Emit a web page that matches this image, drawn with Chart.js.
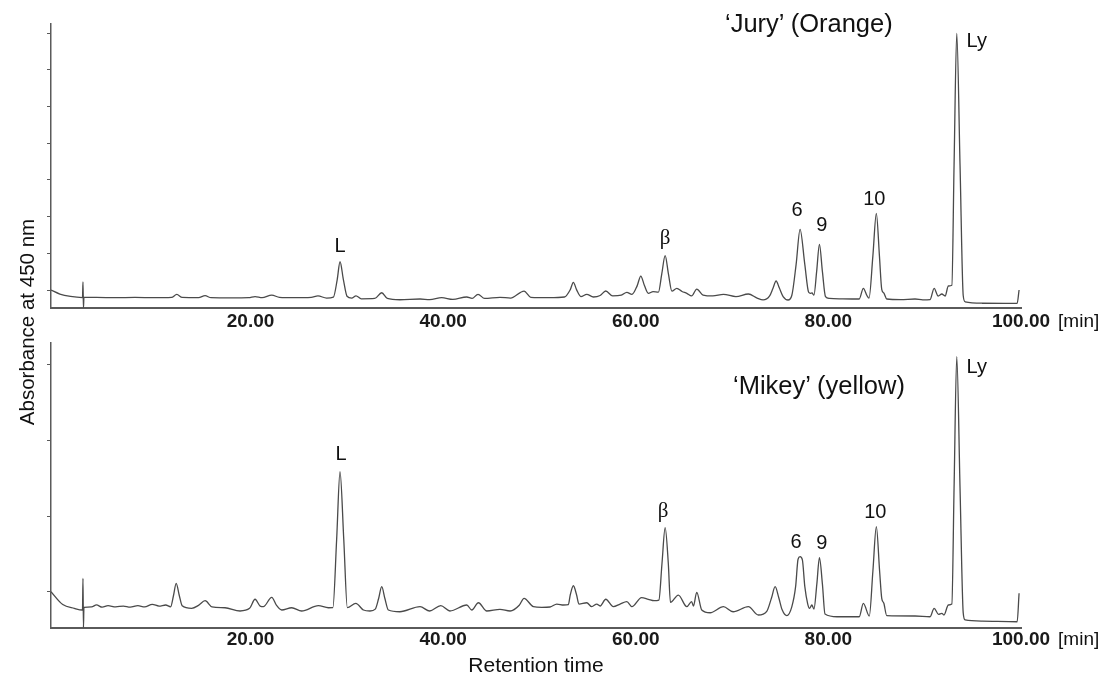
<!DOCTYPE html>
<html>
<head>
<meta charset="utf-8">
<script src="https://cdn.jsdelivr.net/npm/chart.js@4.4.1/dist/chart.umd.min.js"></script>
<style>
  body { margin: 0; background: #fff; }
  #fig { position: relative; width: 1116px; height: 681px; overflow: hidden; font-family: "Liberation Sans", Arial, sans-serif; color: #111; }
  #fig canvas { position: absolute; left: 0; }
  .name { position: absolute; font-size: 25.5px; line-height: 1; white-space: nowrap; }
  #ylab { position: absolute; left: -103px; top: 310px; width: 260px; height: 24px; line-height: 24px;
          font-size: 20.5px; text-align: center; white-space: nowrap; transform: rotate(-90deg); }
</style>
</head>
<body>
<div id="fig">
  <canvas id="juryChart" width="1116" height="340" style="top:0"></canvas>
  <canvas id="mikeyChart" width="1116" height="341" style="top:340px"></canvas>
  <div class="name" style="left:725px;top:11px">‘Jury’ (Orange)</div>
  <div class="name" style="left:733px;top:373px">‘Mikey’ (yellow)</div>
  <div id="ylab">Absorbance at 450 nm</div>
</div>
<script>
// retention time axis (min)
const timeTicks = [20, 40, 60, 80, 100];
const timeMin = -0.72, timeMax = 100;

// identified peaks
const peakNames = ['L', 'β', '6', '9', '10', 'Ly'];
const peakTimes = [29.29, 63.05, 77.06, 79.07, 84.98, 93.33];

// 'Jury' (orange) trace
const juryTime = [
  -0.72, 0.2, 1.3, 2.55, 2.6, 2.65, 2.7, 4.0, 6.0, 8.0,
  10.0, 11.8, 12.34, 12.9, 14.6, 15.28, 15.9, 18.0, 19.8, 20.47,
  21.2, 22.2, 23.0, 24.5, 26.3, 27.0, 27.9, 28.6, 29.0, 29.29,
  29.64, 30.02, 30.5, 30.95, 31.5, 32.9, 33.62, 34.2, 35.5, 37.6,
  38.6, 39.85, 41.0, 42.45, 43.0, 43.62, 44.3, 45.9, 47.0, 48.4,
  49.1, 51.0, 52.6, 53.2, 53.52, 53.85, 54.3, 54.91, 55.6, 56.3,
  56.88, 57.6, 58.5, 59.07, 59.6, 60.15, 60.52, 60.9, 61.3, 61.8,
  62.35, 62.7, 63.05, 63.39, 63.75, 64.26, 64.8, 65.3, 65.8, 66.33,
  66.99, 68.0, 69.1, 70.4, 71.69, 72.6, 73.22, 73.9, 74.25, 74.57,
  74.9, 75.3, 75.81, 76.2, 76.65, 77.06, 77.55, 77.95, 78.15, 78.3,
  78.5, 78.78, 79.07, 79.38, 79.7, 80.1, 81.5, 83.2, 83.63, 84.0,
  84.22, 84.62, 84.98, 85.3, 85.54, 85.75, 86.06, 87.5, 89.0, 89.8,
  90.56, 90.98, 91.4, 91.78, 92.12, 92.46, 92.82, 93.05, 93.33, 93.67,
  94.0, 94.2, 96.0, 99.6, 99.8
];
const juryAbs = [
  0.0, -1.1, -1.75, -2.05, 2.18, -4.9, -2.0, -2.0, -2.1, -2.0,
  -2.1, -2.0, -1.2, -2.0, -2.05, -1.55, -2.1, -2.15, -2.1, -1.8,
  -2.1, -1.4, -2.0, -2.1, -2.0, -1.6, -2.2, -1.95, 2.85, 7.7,
  2.85, -1.7, -2.2, -1.6, -2.4, -2.3, -0.75, -2.3, -2.65, -2.45,
  -2.6, -2.1, -2.55, -1.9, -2.3, -1.17, -2.3, -2.0, -2.2, -0.3,
  -2.0, -2.1, -1.9, 0.1, 2.1, 0.1, -1.8, -1.17, -1.9, -1.5,
  -0.27, -1.6, -1.4, -0.63, -1.2, 1.2, 3.81, 1.2, -0.9, -0.46,
  -0.6, 4.4, 9.35, 4.4, -0.3, 0.46, -0.4, -0.9, -1.6, 0.27,
  -1.36, -1.6, -1.17, -1.8, -1.09, -2.2, -2.7, -1.6, 0.5, 2.45,
  0.6, -1.8, -2.72, -1.5, 7.0, 16.54, 7.0, -0.6, -0.9, -0.8,
  -1.4, 5.0, 12.45, 5.0, -1.8, -2.3, -2.4, -2.45, 0.46, -1.5,
  -2.2, 9.3, 20.9, 9.3, 0.2, -0.8, -2.45, -2.6, -2.45, -2.7,
  -2.6, 0.46, -1.63, -1.09, -1.63, 1.09, 1.3, 34.0, 69.9, 34.0,
  -1.5, -3.2, -3.6, -3.62, 0.0
];
const juryAbsTicks = [0, 10, 20, 30, 40, 50, 60, 70];

// 'Mikey' (yellow) trace
const mikeyTime = [
  -0.72, 0.5, 1.7, 2.55, 2.6, 2.65, 2.7, 3.5, 4.0, 4.6,
  5.2, 6.0, 6.8, 7.5, 8.3, 9.0, 9.8, 10.5, 11.19, 11.7,
  12.0, 12.28, 12.6, 12.9, 13.89, 14.6, 15.28, 16.0, 17.35, 18.91,
  19.9, 20.47, 21.0, 21.33, 22.2, 22.7, 23.24, 24.28, 25.3, 27.04,
  28.08, 28.55, 28.94, 29.29, 29.68, 30.05, 30.93, 31.72, 32.4, 32.95,
  33.3, 33.62, 33.95, 34.31, 35.5, 37.6, 38.6, 39.75, 40.7, 42.45,
  42.97, 43.66, 44.53, 45.9, 46.95, 47.9, 48.4, 49.37, 50.24, 51.1,
  51.8, 52.5, 53.0, 53.2, 53.52, 53.85, 54.1, 54.91, 55.43, 55.95,
  56.3, 56.88, 57.67, 58.37, 59.07, 59.6, 60.6, 61.3, 61.9, 62.4,
  62.72, 63.05, 63.38, 63.6, 64.42, 65.3, 65.8, 65.99, 66.33, 66.85,
  67.72, 69.1, 70.1, 71.69, 72.73, 73.6, 74.1, 74.47, 74.85, 75.2,
  75.68, 76.2, 76.6, 76.85, 77.06, 77.3, 77.55, 77.85, 78.04, 78.28,
  78.5, 78.8, 79.07, 79.38, 79.65, 80.9, 83.2, 83.63, 84.25, 84.62,
  84.98, 85.32, 85.54, 85.75, 86.06, 89.0, 90.56, 90.98, 91.43, 91.78,
  92.0, 92.46, 92.82, 93.05, 93.33, 93.67, 94.0, 94.2, 96.0, 99.6,
  99.8
];
const mikeyAbs = [
  0.0, -1.7, -2.2, -2.42, 1.77, -4.76, -2.06, -2.0, -1.75, -2.05,
  -1.85, -2.0, -1.9, -2.05, -1.85, -2.0, -1.67, -1.9, -1.76, -2.0,
  -0.5, 1.11, -0.5, -1.85, -2.2, -1.8, -1.19, -2.0, -2.12, -2.55,
  -2.2, -1.0, -1.9, -1.98, -0.74, -1.8, -2.42, -2.12, -2.55, -1.85,
  -2.12, -2.1, 6.9, 15.87, 6.9, -2.1, -1.53, -2.42, -2.55, -2.3,
  -0.9, 0.66, -0.9, -2.42, -2.65, -1.98, -2.55, -1.85, -2.55, -1.76,
  -2.42, -1.46, -2.55, -2.33, -2.55, -1.8, -0.87, -1.98, -2.06, -2.02,
  -1.63, -1.76, -1.7, -0.4, 0.79, -0.4, -1.63, -1.46, -1.98, -1.63,
  -1.89, -1.0, -1.98, -1.63, -1.32, -1.98, -0.79, -1.0, -1.19, -1.1,
  3.7, 8.47, 3.7, -1.4, -0.44, -1.98, -1.32, -1.89, -0.08, -2.42,
  -2.78, -1.98, -2.65, -1.98, -3.08, -2.6, -0.8, 0.66, -0.8, -2.4,
  -3.17, -2.0, 0.7, 4.3, 4.63, 4.2, 0.7, -1.6, -2.2, -1.76,
  -2.3, 1.0, 4.5, 1.0, -2.95, -3.31, -3.31, -1.53, -3.21, 2.7,
  8.6, 2.7, -0.87, -1.5, -3.17, -3.21, -3.31, -2.2, -2.99, -2.86,
  -3.08, -1.76, -1.63, 13.7, 31.08, 13.7, -2.8, -3.74, -3.9, -3.97,
  -0.21
];
const mikeyAbsTicks = [0, 10, 20, 30];

const axisGrey = '#5a5a5a';
const textFont = '"Liberation Sans", Arial, sans-serif';

// peak names over the peaks, plus the [min] unit after the last time label
const chromLabels = {
    id: 'chromLabels',
    afterDatasetsDraw(chart, args, opts) {
        const ctx = chart.ctx;
        const xs = chart.scales.x;
        const ys = chart.scales.y;
        ctx.save();
        ctx.fillStyle = '#111';
        ctx.textAlign = 'center';
        ctx.textBaseline = 'middle';
        opts.items.forEach(item => {
            ctx.font = item.text === 'β' ? '21px "Liberation Serif", serif' : '20px ' + textFont;
            ctx.fillText(item.text, xs.getPixelForValue(item.t) + item.dx, ys.getPixelForValue(item.v) + item.dy);
        });
        // unit label
        const tf = xs.options.ticks.font;
        ctx.font = 'bold ' + tf.size + 'px ' + textFont;
        const half = ctx.measureText(timeTicks[timeTicks.length - 1].toFixed(2)).width / 2;
        ctx.font = tf.size + 'px ' + textFont;
        ctx.textAlign = 'left';
        const ly = xs.top + xs.options.ticks.padding + tf.size * 1.2 / 2;
        ctx.fillText('[min]', xs.getPixelForValue(timeMax) + half + 8, ly);
        ctx.restore();
    }
};

function buildChart(id, times, values, yMin, yMax, yTicks, offsets, frame) {
    const points = times.map((t, i) => ({ x: t, y: values[i] }));
    const items = peakNames.map((name, i) => ({
        text: name,
        t: peakTimes[i],
        v: values[times.indexOf(peakTimes[i])],
        dx: offsets[i][0],
        dy: offsets[i][1]
    }));
    return new Chart(document.getElementById(id), {
        type: 'line',
        data: {
            datasets: [{
                data: points,
                borderColor: '#4a4a4a',
                borderWidth: 1.3,
                pointRadius: 0,
                fill: false,
                cubicInterpolationMode: 'monotone'
            }]
        },
        options: {
            responsive: false,
            animation: false,
            events: [],
            layout: { padding: { left: 45, right: 95, top: frame.top, bottom: frame.bottom } },
            plugins: {
                legend: { display: false },
                tooltip: { enabled: false },
                chromLabels: { items: items }
            },
            scales: {
                x: {
                    type: 'linear',
                    min: timeMin,
                    max: timeMax,
                    afterBuildTicks: s => { s.ticks = timeTicks.map(v => ({ value: v })); },
                    afterFit: s => { s.height = frame.xHeight; },
                    grid: { display: false, drawTicks: false },
                    border: { color: axisGrey, width: 2 },
                    ticks: {
                        padding: frame.labelPad,
                        color: '#1a1a1a',
                        maxRotation: 0,
                        autoSkip: false,
                        font: { family: textFont, size: 19, weight: 'bold' },
                        callback: v => v.toFixed(2)
                    },
                    title: {
                        display: !!frame.title,
                        text: frame.title || '',
                        color: '#111',
                        padding: 0,
                        font: { family: textFont, size: 21 }
                    }
                },
                y: {
                    min: yMin,
                    max: yMax,
                    afterBuildTicks: s => { s.ticks = yTicks.map(v => ({ value: v })); },
                    afterFit: s => { s.width = 6; },
                    grid: { drawOnChartArea: false, drawTicks: true, tickLength: 4, color: axisGrey },
                    border: { color: axisGrey, width: 1.5 },
                    ticks: { display: false }
                }
            }
        },
        plugins: [chromLabels]
    });
}

document.addEventListener('DOMContentLoaded', function() {
    buildChart('juryChart', juryTime, juryAbs, -4.9, 72.48, juryAbsTicks,
        [[0, -15], [0, -17], [-3, -19], [2.5, -19], [-2, -14], [20, 8]],
        { top: 24, bottom: 0, xHeight: 32, labelPad: 2 });
    buildChart('mikeyChart', mikeyTime, mikeyAbs, -4.8, 32.9, mikeyAbsTicks,
        [[1, -17.7], [-2, -16], [-4, -14], [2.5, -14], [-1, -14], [20, 11]],
        { top: 3, bottom: 2, xHeight: 51, labelPad: 0, title: 'Retention time' });
});
</script>
</body>
</html>
